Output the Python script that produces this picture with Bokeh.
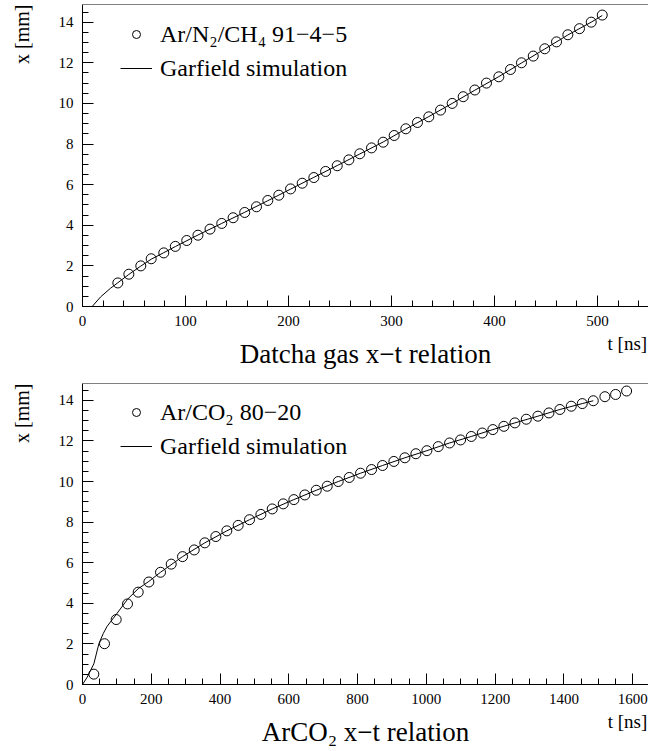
from bokeh.plotting import figure
from bokeh.layouts import column
from bokeh.models import Range1d, Title, SingleIntervalTicker, LinearAxis, FixedTicker, Span
from bokeh.embed import file_html
from bokeh.resources import INLINE

FONT = "Liberation Serif"

# ---------- Top panel: Datcha gas ----------
datcha_t = [34.3, 45.0, 56.6, 66.7, 78.9, 90.1, 101.2, 112.1, 123.8, 135.2,
            146.2, 157.5, 168.9, 179.9, 190.6, 202.0, 213.3, 224.6, 236.0, 247.3,
            258.6, 269.2, 280.6, 291.9, 302.6, 313.9, 325.2, 336.2, 347.6, 358.9,
            369.6, 380.9, 392.2, 404.2, 415.5, 426.2, 437.6, 448.8, 460.2, 471.2,
            482.5, 493.9, 504.6]
datcha_x = [1.16, 1.59, 2.00, 2.35, 2.64, 2.96, 3.25, 3.51, 3.81, 4.09,
            4.37, 4.63, 4.91, 5.22, 5.48, 5.79, 6.07, 6.35, 6.65, 6.93,
            7.22, 7.52, 7.81, 8.09, 8.42, 8.75, 9.06, 9.34, 9.67, 10.00,
            10.33, 10.66, 11.00, 11.31, 11.67, 12.00, 12.33, 12.69, 13.03, 13.38,
            13.68, 14.00, 14.35]
datcha_sim_t = [9.4, 17.5, 27.0, 34.3, 45.0, 56.6, 66.7, 78.9, 90.1, 112.1,
                135.2, 157.5, 179.9, 202.0, 224.6, 247.3, 269.2, 291.9, 313.9, 336.2,
                358.9, 380.9, 404.2, 426.2, 448.8, 471.2, 493.9, 504.6]
datcha_sim_x = [0.0, 0.47, 0.89, 1.17, 1.58, 1.99, 2.33, 2.65, 2.95, 3.52,
                4.09, 4.64, 5.21, 5.78, 6.36, 6.94, 7.51, 8.10, 8.74, 9.35,
                10.00, 10.65, 11.32, 11.99, 12.68, 13.37, 14.00, 14.33]

# ---------- Bottom panel: Ar/CO2 ----------
arco2_t = [32.9, 64.0, 98.0, 130.9, 162.0, 193.0, 226.9, 258.0, 290.9, 324.9,
           355.7, 387.8, 419.7, 452.8, 485.7, 518.8, 551.8, 583.8, 614.7, 646.6,
           679.8, 711.7, 743.7, 775.7, 808.6, 840.6, 872.6, 905.5, 937.5, 969.5,
           1001.5, 1034.6, 1067.5, 1099.5, 1130.6, 1162.6, 1193.4, 1225.4, 1257.4, 1290.6,
           1324.4, 1356.4, 1388.3, 1421.4, 1453.4, 1485.4, 1519.2, 1550.3, 1582.3]
arco2_x = [0.51, 2.01, 3.20, 3.97, 4.55, 5.05, 5.53, 5.93, 6.30, 6.63,
           6.98, 7.29, 7.57, 7.84, 8.12, 8.38, 8.65, 8.90, 9.11, 9.34,
           9.57, 9.77, 10.00, 10.20, 10.41, 10.59, 10.79, 10.99, 11.17, 11.37,
           11.52, 11.72, 11.90, 12.05, 12.22, 12.39, 12.56, 12.72, 12.89, 13.07,
           13.22, 13.38, 13.55, 13.71, 13.84, 13.98, 14.18, 14.29, 14.46]
arco2_sim_t = [0.0, 13.6, 33.0, 47.5, 60.0, 71.7, 98.0, 131.0, 162.0, 193.0,
               226.9, 290.9, 355.7, 419.7, 485.7, 551.8, 614.7, 679.8, 743.7, 808.6,
               872.6, 937.5, 1001.5, 1067.5, 1130.6, 1193.4, 1257.4, 1324.4, 1388.3, 1453.4,
               1485.4]
arco2_sim_x = [0.0, 0.36, 1.02, 2.0, 2.5, 2.87, 3.45, 4.2, 4.72, 5.08,
               5.53, 6.30, 6.98, 7.57, 8.12, 8.65, 9.11, 9.57, 10.00, 10.41,
               10.79, 11.17, 11.52, 11.90, 12.22, 12.56, 12.89, 13.22, 13.55, 13.84,
               13.98]


def make_panel(t, x, sim_t, sim_x, data_label, title, x_max, y_max, x_step, x_minor,
               height, border_top, border_bottom, legend_bottom, tlabel_x):
    p = figure(width=648, height=height,
               x_range=Range1d(0, x_max), y_range=Range1d(0, y_max),
               output_backend="svg", toolbar_location=None,
               min_border_left=82, min_border_right=0,
               min_border_top=border_top, min_border_bottom=border_bottom)
    p.grid.visible = False
    p.outline_line_color = None
    p.background_fill_color = "white"
    p.border_fill_color = "white"
    # top frame border (the right border lies outside the picture)
    p.add_layout(Span(location=y_max, dimension="width", line_color="black", line_width=1))

    p.xaxis.ticker = SingleIntervalTicker(interval=x_step, num_minor_ticks=x_minor)
    p.yaxis.ticker = SingleIntervalTicker(interval=2, num_minor_ticks=4)
    for ax in (p.xaxis[0], p.yaxis[0]):
        ax.major_tick_in = 11
        ax.major_tick_out = 0
        ax.minor_tick_in = 6
        ax.minor_tick_out = 0
        ax.axis_line_color = "black"
        ax.major_tick_line_color = "black"
        ax.minor_tick_line_color = "black"
        ax.major_label_text_font = FONT
        ax.major_label_text_font_size = "15px"
        ax.major_label_text_color = "black"
    p.xaxis.major_label_standoff = 9
    p.yaxis.major_label_standoff = 9

    p.line(sim_t, sim_x, line_color="black", line_width=1,
           legend_label="Garfield simulation")
    p.scatter(t, x, marker="circle", size=10, fill_color=None,
              line_color="black", line_width=1, legend_label=data_label)

    lg = p.legend[0]
    lg.items = [lg.items[1], lg.items[0]]
    lg.location = (38, legend_bottom)
    lg.padding = 0
    lg.margin = 0
    lg.spacing = 0
    lg.glyph_width = 32
    lg.glyph_height = 20
    lg.label_height = 34
    lg.label_standoff = 8
    lg.label_text_font = FONT
    lg.label_text_font_size = "24px"
    lg.label_text_color = "black"
    lg.border_line_alpha = 0
    lg.background_fill_alpha = 0

    # second, line-less axis carrying the "t [ns]" unit and the panel caption
    ax2 = LinearAxis(ticker=FixedTicker(ticks=[tlabel_x]),
                     major_label_overrides={tlabel_x: "t [ns]"},
                     axis_line_color=None, major_tick_line_color=None,
                     minor_tick_line_color=None,
                     major_tick_in=0, major_tick_out=0, minor_tick_in=0, minor_tick_out=0,
                     major_label_standoff=4,
                     major_label_text_font=FONT, major_label_text_font_size="19px",
                     major_label_text_color="black",
                     axis_label=title, axis_label_standoff=-18,
                     axis_label_text_font=FONT, axis_label_text_font_size="27px",
                     axis_label_text_font_style="normal", axis_label_text_color="black")
    p.add_layout(ax2, "below")

    p.add_layout(Title(text=" ", text_font_size="19px", standoff=0), "left")
    p.add_layout(Title(text="x [mm]", align="right", text_font=FONT,
                       text_font_size="20px", text_font_style="normal",
                       standoff=0, text_color="black"), "left")
    return p


p1 = make_panel(datcha_t, datcha_x, datcha_sim_t, datcha_sim_x,
                "Ar/N₂/CH₄ 91−4−5", "Datcha gas x−t relation",
                549.5, 14.87, 100, 5, 377, 4, 71, 221, 529)
p2 = make_panel(arco2_t, arco2_x, arco2_sim_t, arco2_sim_x,
                "Ar/CO₂ 80−20", "ArCO₂ x−t relation",
                1646, 14.83, 200, 4, 374, 6, 67, 221, 1585)

layout = column(p1, p2, spacing=0)
open("out.html", "w").write(file_html(layout, INLINE))
